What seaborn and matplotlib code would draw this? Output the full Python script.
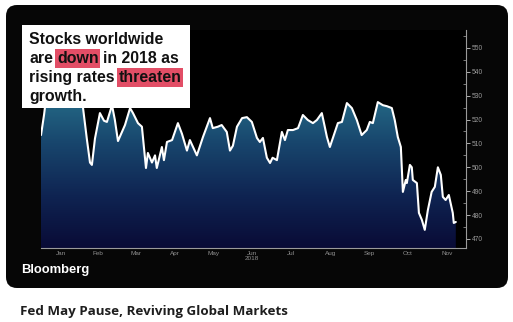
import numpy as np
import pandas as pd
import matplotlib
matplotlib.use("Agg")
import matplotlib.pyplot as plt
import seaborn as sns
from matplotlib.patches import FancyBboxPatch, Rectangle
from matplotlib.colors import LinearSegmentedColormap

# MSCI-style world equity index, 2018 (day offset from Jan 1, index level)
day_offset = [0, 2.4, 4.7, 8.6, 12.6, 16.5, 20.4, 24.4, 27.5, 30.6, 33, 36, 38.5, 40,
              42.4, 46.3, 49.5, 51.8, 55.8, 58, 60.5, 66, 70, 72.3, 76.2, 79.3, 82.5,
              84, 87.2, 89.6, 91, 95, 96.6, 99, 103, 107.6, 110.8, 114.7, 117, 122.5,
              127.3, 132.8, 135, 139, 142, 146, 148.5, 150.8, 154, 158, 161.8, 165.7,
              169.7, 172, 174.4, 177.5, 180, 182, 185.4, 189.3, 191.7, 194, 198, 202,
              205.8, 209.7, 213.7, 216.8, 220.7, 223, 224.7, 227, 229.4, 233.3, 236.5,
              240.4, 244.3, 248.2, 252, 256, 258.4, 260.8, 264.7, 268.7, 271.8, 275.7,
              278, 280.4, 282.8, 284.4, 286.7, 287.5, 289.9, 291.4, 292.2, 295.4, 297,
              299.3, 301.6, 304, 307, 309.5, 311.9, 314.2, 315.8, 318, 320.5, 323.6,
              324.4, 326]
index_level = [513.5, 522, 532, 540, 545, 548, 551, 553, 547, 535, 525, 512, 502, 501,
               512, 522.7, 519.5, 519, 526, 520, 511, 517.7, 524.8, 522.7, 518.5, 517,
               499.7, 506, 502, 505, 499.7, 508.5, 503, 510.6, 511.4, 518.5, 514, 507,
               511.4, 505, 512.7, 520.6, 516.4, 517, 517.7, 514.8, 507, 509, 517, 520.6,
               521, 519, 512.3, 510.6, 512.3, 504, 501.8, 504, 503, 514.8, 511.4, 515.6,
               515.6, 516.4, 521.9, 519.8, 518.5, 519.8, 522.7, 517, 512.7, 508.5, 512.3,
               518.5, 519, 526.9, 524.8, 519.8, 513.5, 515.6, 519, 518.5, 527.3, 526,
               525.6, 524.8, 519.8, 512.7, 508.5, 489.7, 494.7, 493.4, 501, 500, 494.7,
               493.4, 480.9, 478, 473.8, 482, 489.7, 491.8, 500, 496.8, 487.6, 486.3,
               488.4, 480.9, 476.7, 477.1]

month_labels = ["Jan", "Feb", "Mar", "Apr", "May", "Jun\n2018", "Jul", "Aug", "Sep",
                "Oct", "Nov"]
y_ticks = [470, 480, 490, 500, 510, 520, 530, 540, 550]

headline = [
    [("Stocks worldwide", False)],
    [("are", False), ("down", True), ("in 2018 as", False)],
    [("rising rates", False), ("threaten", True)],
    [("growth.", False)],
]
brand = "Bloomberg"
caption = "Fed May Pause, Reviving Global Markets"

sns.set_style("dark")
plt.rcParams["font.family"] = ["Liberation Sans", "DejaVu Sans"]

W, H = 513, 322
fig = plt.figure(figsize=(W / 100, H / 100), dpi=100)
fig.patch.set_facecolor("white")

# Background layer in pixel coordinates
bg = fig.add_axes([0, 0, 1, 1], zorder=0)
bg.set_xlim(0, W)
bg.set_ylim(H, 0)
bg.axis("off")
bg.add_patch(FancyBboxPatch((6, 5), 502, 283,
                            boxstyle="round,pad=0,rounding_size=11",
                            fc="#060606", ec="none"))
bg.text(21, 272.5, brand, color="white", fontsize=9.4, fontweight="bold",
        va="baseline", ha="left")
bg.text(20, 315, caption, color="#1e1e1e", fontsize=9.6, fontweight="bold",
        family=["Open Sans", "DejaVu Sans"], va="baseline", ha="left")

# Chart axes
y_lo, y_hi = 466.2, 557.5
x_lo, x_hi = 0, 334
ax = fig.add_axes([41 / W, 1 - 248 / H, 425 / W, 218 / H], zorder=1)
ax.set_facecolor("#000000")

fill = ax.fill_between(day_offset, index_level, y_lo, color="none", lw=0)
cmap = LinearSegmentedColormap.from_list(
    "deep", ["#090b36", "#0f2452", "#18466d", "#266f8a"])
grad = np.linspace(0, 1, 256).reshape(-1, 1)
im = ax.imshow(grad, extent=[x_lo, x_hi, y_lo, 532], origin="lower",
               aspect="auto", cmap=cmap, zorder=1, interpolation="bicubic")
im.set_clip_path(fill.get_paths()[0], transform=ax.transData)

sns.lineplot(x=day_offset, y=index_level, ax=ax, color="white", lw=1.5,
             zorder=3, sort=False)

ax.set_xlim(x_lo, x_hi)
ax.set_ylim(y_lo, y_hi)
ax.grid(False)

# Month ticks: boundaries as ticks, labels centred in each month
starts = pd.date_range("2018-01-01", "2018-12-01", freq="MS")
start_days = [(d - starts[0]).days for d in starts]
mid_days = [(a + b) / 2 for a, b in zip(start_days[:-1], start_days[1:])][:len(month_labels)]
ax.set_xticks(start_days[1:-1])
ax.set_xticklabels([])
ax.set_xticks(mid_days, minor=True)
ax.set_xticklabels(month_labels, minor=True)
ax.tick_params(axis="x", which="major", length=2, width=0.6, color="#8c8c8c",
               direction="inout")
ax.tick_params(axis="x", which="minor", length=0, pad=2.5, labelsize=4.6,
               labelcolor="#8f8f8f")
for lab in ax.get_xticklabels(minor=True):
    lab.set_linespacing(0.9)

ax.yaxis.tick_right()
ax.set_yticks(y_ticks)
ax.set_yticklabels([str(v) for v in y_ticks])
ax.set_yticks([v + 5 for v in y_ticks], minor=True)
ax.tick_params(axis="y", which="major", length=3, width=0.7, color="#b0b0b0",
               direction="out", pad=1, labelsize=4.8, labelcolor="#9a9a9a")
ax.tick_params(axis="y", which="minor", length=2, width=0.6, color="#8c8c8c",
               direction="in")
ax.set_xlabel("")
ax.set_ylabel("")

for side in ("left", "top"):
    ax.spines[side].set_visible(False)
for side in ("right", "bottom"):
    ax.spines[side].set_visible(True)
    ax.spines[side].set_color("#9a9a9a")
    ax.spines[side].set_linewidth(0.8)

# Headline card
ov = fig.add_axes([0, 0, 1, 1], zorder=5)
ov.set_xlim(0, W)
ov.set_ylim(H, 0)
ov.axis("off")
ov.patch.set_alpha(0)
ov.add_patch(Rectangle((22, 25), 168, 83, fc="white", ec="none"))

baselines = [44, 63, 82, 100.5]
font_kw = dict(fontsize=11.4, fontweight="bold", color="#111111")
for base, parts in zip(baselines, headline):
    prev = None
    for text, marked in parts:
        box = dict(boxstyle="square,pad=0.1", fc="#e24e66", ec="none") if marked else None
        if prev is None:
            prev = ov.text(29, base, text, va="baseline", ha="left", bbox=box, **font_kw)
        else:
            prev = ov.annotate(text, xy=(1, 0), xycoords=prev, xytext=(3.0, 0),
                               textcoords="offset points", va="bottom", ha="left",
                               bbox=box, **font_kw)

fig.savefig("out.png", dpi=100, facecolor="white")
